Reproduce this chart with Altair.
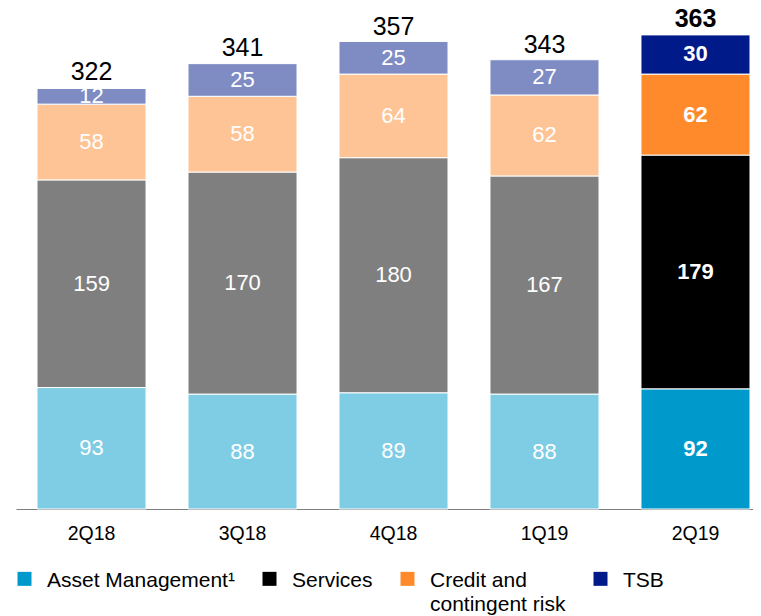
import altair as alt
import pandas as pd

quarters = ["2Q18", "3Q18", "4Q18", "1Q19", "2Q19"]
asset_mgmt = [93, 88, 89, 88, 92]
services = [159, 170, 180, 167, 179]
credit = [58, 58, 64, 62, 62]
tsb = [12, 25, 25, 27, 30]
totals = [322, 341, 357, 343, 363]
segments = ["Asset Management¹", "Services", "Credit and contingent risk", "TSB"]
colors = ["#0099CC", "#000000", "#FF8A2B", "#001A8A"]
current = "2Q19"

FONT = "Liberation Sans"
NB = "\u00a0"

rows = []
for i, q in enumerate(quarters):
    for j, (seg, vals) in enumerate(zip(segments, [asset_mgmt, services, credit, tsb])):
        rows.append({"quarter": q, "segment": seg, "order": j,
                     "value": vals[i], "current": q == current})
df = pd.DataFrame(rows)
tot = pd.DataFrame({"quarter": quarters, "total": totals,
                    "current": [q == current for q in quarters]})

xenc = alt.X("quarter:N", sort=quarters, title=None,
             scale=alt.Scale(paddingInner=0.278, paddingOuter=0.0795, align=0.875),
             axis=alt.Axis(labelAngle=0, ticks=False, domainColor="#7f7f7f",
                           domainWidth=1, labelFontSize=19.5, labelColor="black",
                           labelFont=FONT, labelPadding=15))
yscale = alt.Scale(domain=[0, 383.6], nice=False, zero=True)

base = alt.Chart(df)

label_expr = (
    "datum.label == 'Credit and contingent risk' ? ['Credit and', 'contingent risk'] : "
    "[datum.label, '" + NB + "']"
)

bars = base.mark_bar(stroke="white", strokeWidth=1).encode(
    x=xenc,
    y=alt.Y("value:Q", stack="zero", scale=yscale, axis=None),
    color=alt.Color("segment:N", sort=segments,
                    scale=alt.Scale(domain=segments, range=colors),
                    legend=alt.Legend(
                        title=None, orient="none", legendX=-2, legendY=551,
                        direction="horizontal", columns=4,
                        symbolType="M-1,0.3H1V2.3H-1Z",
                        symbolSize=196, symbolStrokeWidth=0, labelFontSize=21,
                        labelFont=FONT, labelColor="black", columnPadding=24,
                        labelOffset=12, labelLimit=400, labelBaseline="top",
                        labelExpr=label_expr)),
    fillOpacity=alt.condition("datum.current", alt.value(1), alt.value(0.5)),
    order=alt.Order("order:Q"),
)

stacked = base.transform_stack(
    stack="value", groupby=["quarter"], as_=["v0", "v1"],
    sort=[alt.SortField("order", order="ascending")]
).transform_calculate(mid="(datum.v0 + datum.v1) / 2")

inner_prev = stacked.transform_filter("!datum.current").mark_text(
    color="white", fontSize=22, font=FONT, baseline="middle"
).encode(x=alt.X("quarter:N", sort=quarters), y=alt.Y("mid:Q", scale=yscale),
         text="value:Q")
inner_cur = stacked.transform_filter("datum.current").mark_text(
    color="white", fontSize=22, font=FONT, fontWeight="bold", baseline="middle"
).encode(x=alt.X("quarter:N", sort=quarters), y=alt.Y("mid:Q", scale=yscale),
         text="value:Q")

tbase = alt.Chart(tot)
tot_prev = tbase.transform_filter("!datum.current").mark_text(
    color="black", fontSize=25, font=FONT, baseline="alphabetic", dy=-8
).encode(x=alt.X("quarter:N", sort=quarters), y=alt.Y("total:Q", scale=yscale),
         text="total:Q")
tot_cur = tbase.transform_filter("datum.current").mark_text(
    color="black", fontSize=25, font=FONT, fontWeight="bold", baseline="alphabetic", dy=-8
).encode(x=alt.X("quarter:N", sort=quarters), y=alt.Y("total:Q", scale=yscale),
         text="total:Q")

chart = alt.layer(bars, inner_prev, inner_cur, tot_prev, tot_cur).properties(
    width=737, height=501,
    autosize=alt.AutoSizeParams(type="none"),
    padding={"left": 8, "top": 0, "right": 0, "bottom": 107},
).configure(
    view=alt.ViewConfig(stroke=None),
    style={"guide-label": {"lineHeight": 24}},
)

chart.save("out.html", embed_options={"renderer": "svg", "actions": False})
